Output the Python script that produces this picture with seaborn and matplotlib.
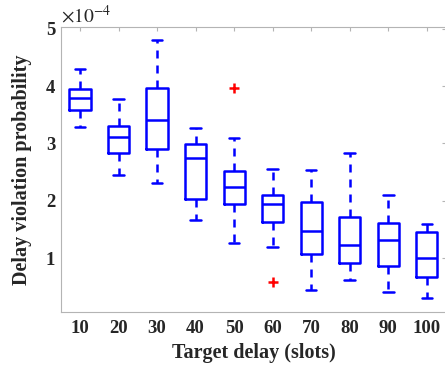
import numpy as np
import pandas as pd
import seaborn as sns
import matplotlib.pyplot as plt

# target delays (slots)
delays = [10, 20, 30, 40, 50, 60, 70, 80, 90, 100]

# box statistics, in units of 1e-4
whisk_lo = [3.28, 2.45, 2.31, 1.67, 1.26, 1.19, 0.44, 0.62, 0.41, 0.31]
q1 = [3.58, 2.84, 2.90, 2.03, 1.94, 1.63, 1.08, 0.91, 0.87, 0.67]
med = [3.79, 3.11, 3.41, 2.74, 2.24, 1.94, 1.47, 1.23, 1.31, 1.01]
q3 = [3.95, 3.31, 3.97, 2.99, 2.52, 2.10, 1.98, 1.72, 1.62, 1.46]
whisk_hi = [4.30, 3.77, 4.81, 3.27, 3.10, 2.56, 2.54, 2.84, 2.10, 1.60]
outliers = {50: [3.97], 60: [0.58]}

# build samples whose quartiles / whisker ends reproduce the stats above
rows = []
for i, d in enumerate(delays):
    out = outliers.get(d, [])
    hi_out = [o for o in out if o > q3[i]]
    lo_out = [o for o in out if o < q1[i]]
    if hi_out:
        vals = [whisk_lo[i], q1[i], q1[i], med[i], med[i], q3[i], q3[i], whisk_hi[i]] + hi_out
    elif lo_out:
        vals = lo_out + [whisk_lo[i], q1[i], q1[i], med[i], med[i], q3[i], q3[i], whisk_hi[i]]
    else:
        vals = [whisk_lo[i], q1[i], q1[i], q1[i], med[i], q3[i], q3[i], q3[i], whisk_hi[i]]
    for v in vals:
        rows.append({'delay': str(d), 'prob': v})
df = pd.DataFrame(rows)

sns.set_style('white')
plt.rcParams['font.family'] = ['Liberation Serif', 'DejaVu Serif']
plt.rcParams['mathtext.fontset'] = 'stix'

fig = plt.figure(figsize=(4.45, 3.67), dpi=100)
ax = fig.add_axes([0.1364, 0.1507, 0.866, 0.7744])

sns.boxplot(data=df, x='delay', y='prob', order=[str(d) for d in delays],
            ax=ax, fill=False, color='blue', width=0.55, linewidth=1.8,
            whis=1.5,
            whiskerprops={'linestyle': (0, (3.2, 2.8))},
            flierprops={'marker': '+', 'markeredgecolor': 'red',
                        'markersize': 7, 'markeredgewidth': 1.8})

ax.set_xlim(-0.5, 9.5)
ax.set_ylim(0.07, 5.02)
ax.set_yticks([1, 2, 3, 4, 5])
ax.set_xlabel('Target delay (slots)', fontsize=14.5, fontweight='bold', labelpad=4)
ax.set_ylabel('Delay violation probability', fontsize=14.5, fontweight='bold', labelpad=10)
ax.tick_params(axis='both', labelsize=13.5, direction='in', length=3,
               color='#b4b4b4', top=True, right=True)
ax.tick_params(axis='x', pad=6)
ax.tick_params(axis='y', pad=4)
for lab in ax.get_xticklabels() + ax.get_yticklabels():
    lab.set_fontweight('bold')
for s in ax.spines.values():
    s.set_color('#b4b4b4')
    s.set_linewidth(0.8)

fig.text(0.138, 0.958, r'$\times10^{-4}$', fontsize=14, ha='left', va='center')

fig.savefig('out.png', dpi=100)
